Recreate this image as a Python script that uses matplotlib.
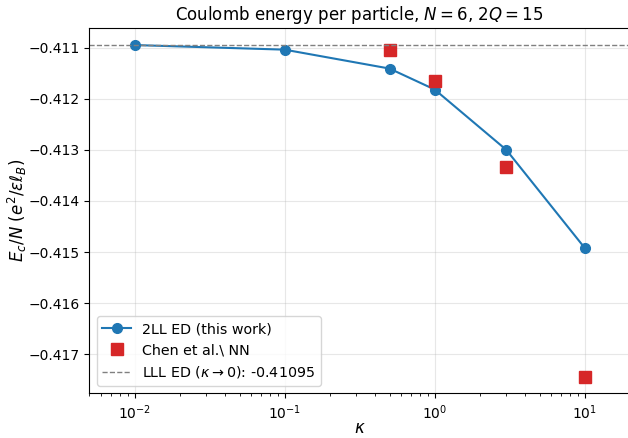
import numpy as np
import matplotlib
matplotlib.use("Agg")
import matplotlib.pyplot as plt

# data
kappa_ed = [0.01, 0.1, 0.5, 1.0, 3.0, 10.0]
energy_ed = [-0.41095, -0.41104, -0.41141, -0.41182, -0.41300, -0.41492]
kappa_nn = [0.5, 1.0, 3.0, 10.0]
energy_nn = [-0.41105, -0.41165, -0.41334, -0.41744]
lll_value = -0.41095

fig, ax = plt.subplots(figsize=(6.28, 4.38), dpi=100)
ax.plot(kappa_ed, energy_ed, "o-", color="#1f77b4", ms=7, lw=1.5, label="2LL ED (this work)")
ax.plot(kappa_nn, energy_nn, "s", color="#d62728", ms=8, label=r"Chen et al.\ NN")
ax.axhline(lll_value, color="gray", ls="--", lw=1,
           label=r"LLL ED ($\kappa\to 0$): %.5f" % lll_value)
ax.set_xscale("log")
ax.set_xlim(5e-3, 2e1)
ax.set_xlabel(r"$\kappa$", fontsize=12, labelpad=-2)
ax.set_ylabel(r"$E_c/N$ ($e^2/\epsilon\ell_B$)", fontsize=12, labelpad=0)
ax.set_title(r"Coulomb energy per particle, $N=6$, $2Q=15$", fontsize=12)
ax.grid(True, alpha=0.3)
ax.legend(loc="lower left", fontsize=10.3)
fig.subplots_adjust(left=0.1425, right=1.003, top=0.935, bottom=0.102)
fig.savefig("out.png", dpi=100)
